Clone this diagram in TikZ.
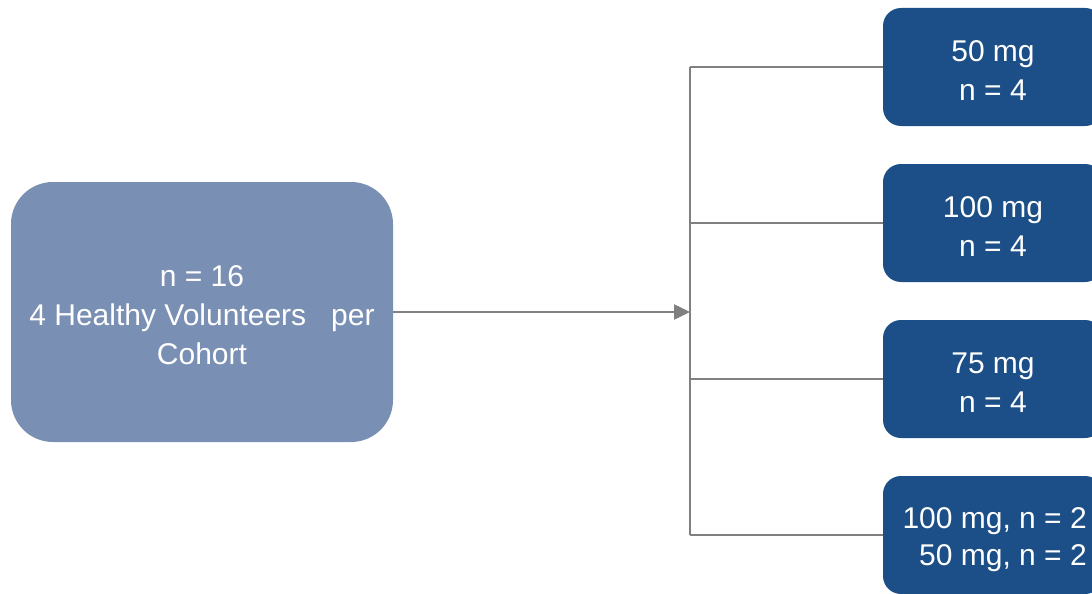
\documentclass[tikz,border=0pt]{standalone}
\usepackage{fontspec}
\setmainfont{Liberation Sans}
\usetikzlibrary{arrows.meta}
\definecolor{leftfill}{RGB}{122,143,180}
\definecolor{dosefill}{RGB}{28,79,135}
\definecolor{linegray}{RGB}{128,128,128}
\tikzset{
  cohortbox/.style={fill=leftfill, draw=none, rounded corners=42pt, minimum width=382pt, minimum height=260pt, inner sep=0pt},
  dosebox/.style={fill=dosefill, draw=none, rounded corners=18pt, minimum width=220pt, minimum height=118pt, inner sep=0pt},
  boxtext/.style={text=white, align=center, font=\fontsize{30}{39}\selectfont, inner sep=0pt},
  link/.style={draw=linegray, line width=2.5pt},
}
\begin{document}
\begin{tikzpicture}[x=1pt,y=-1pt]
\useasboundingbox (0,0) rectangle (1092,594);
\clip (0,0) rectangle (1092,594);
\node[cohortbox] (cohort) at (202,312) {};
\node[boxtext] (cohorttext) at (202,315) {n = 16\\4 Healthy Volunteers~~~per\\Cohort};
\node[dosebox] (d1) at (993,67) {};
\node[dosebox] (d2) at (993,223) {};
\node[dosebox] (d3) at (993,379) {};
\node[dosebox] (d4) at (993,535) {};
\node[boxtext] (t1) at (993,71) {50 mg\\n = 4};
\node[boxtext] (t2) at (993,227) {100 mg\\n = 4};
\node[boxtext] (t3) at (993,383) {75 mg\\n = 4};
\node[boxtext, align=right, font=\fontsize{30}{37}\selectfont, anchor=east] (t4) at (1087,540) {100 mg, n = 2\\50 mg, n = 2};
\coordinate (hub) at (690,312);
\coordinate (top) at (690,67);
\coordinate (bot) at (690,535);
\draw[link, -{Triangle[length=16pt,width=15pt]}] (cohort.east) -- (hub);
\draw[link] (top) -- (bot);
\draw[link] (top) -- (d1.west);
\draw[link] (690,223) -- (d2.west);
\draw[link] (690,379) -- (d3.west);
\draw[link] (bot) -- (d4.west);
\end{tikzpicture}
\end{document}
